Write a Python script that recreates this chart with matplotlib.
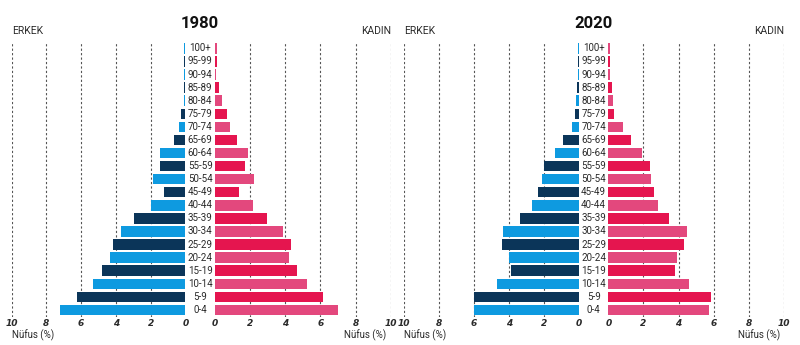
import matplotlib
matplotlib.use("Agg")
import matplotlib.pyplot as plt

ages = ["0-4", "5-9", "10-14", "15-19", "20-24", "25-29", "30-34", "35-39", "40-44",
        "45-49", "50-54", "55-59", "60-64", "65-69", "70-74", "75-79", "80-84",
        "85-89", "90-94", "95-99", "100+"]

male_1980 = [7.24, 6.26, 5.32, 4.78, 4.32, 4.17, 3.70, 2.94, 2.00, 1.21, 1.86, 1.44,
             1.44, 0.63, 0.35, 0.25, 0.10, 0.08, 0.07, 0.07, 0.07]
female_1980 = [7.00, 6.13, 5.22, 4.69, 4.23, 4.33, 3.85, 2.94, 2.14, 1.35, 2.20, 1.73,
               1.88, 1.27, 0.84, 0.68, 0.40, 0.23, 0.08, 0.10, 0.10]
male_2020 = [5.98, 6.00, 4.67, 3.87, 4.02, 4.40, 4.36, 3.37, 2.70, 2.34, 2.13, 1.98,
             1.35, 0.90, 0.42, 0.21, 0.15, 0.10, 0.07, 0.07, 0.07]
female_2020 = [5.71, 5.82, 4.57, 3.81, 3.89, 4.33, 4.46, 3.43, 2.85, 2.60, 2.43, 2.37,
               1.90, 1.29, 0.82, 0.34, 0.28, 0.23, 0.08, 0.08, 0.08]

ticks = [0, 2, 4, 6, 8, 10]
years = ["1980", "2020"]

LIGHT_BLUE = "#0e9ae0"
DARK_BLUE = "#0b3559"
PINK = "#e3487d"
CRIMSON = "#e5154f"
TXT = "#2a2a2a"

plt.rcParams["font.family"] = ["Roboto", "DejaVu Sans"]

W, H = 800, 345
fig = plt.figure(figsize=(W / 100, H / 100), dpi=100)

def px_axes(x0, x1, y0, y1):
    return fig.add_axes([x0 / W, 1 - y1 / H, (x1 - x0) / W, (y1 - y0) / H])

y_top, y_bot = 41.8, 316.5
panels = [
    dict(year=years[0], male=male_1980, female=female_1980,
         m=(11.7, 185.3), f=(215.0, 390.7)),
    dict(year=years[1], male=male_2020, female=female_2020,
         m=(404.0, 579.0), f=(608.3, 784.0)),
]

ypos = list(range(len(ages)))
for p in panels:
    axm = px_axes(p["m"][0], p["m"][1], y_top, y_bot)
    axf = px_axes(p["f"][0], p["f"][1], y_top, y_bot)
    mcol = [LIGHT_BLUE if i % 2 == 0 else DARK_BLUE for i in ypos]
    fcol = [PINK if i % 2 == 0 else CRIMSON for i in ypos]
    axm.barh(ypos, p["male"], height=0.8, color=mcol, linewidth=0, zorder=3)
    axf.barh(ypos, p["female"], height=0.8, color=fcol, linewidth=0, zorder=3)
    for ax, inv in ((axm, True), (axf, False)):
        ax.set_xlim((10, 0) if inv else (0, 10))
        ax.set_ylim(-0.5, len(ages) - 0.5)
        for t in ticks[1:]:
            ax.axvline(t, color="#555555", lw=0.8, ls=(0, (2, 2)), zorder=1)
        for s in ax.spines.values():
            s.set_visible(False)
        ax.set_yticks([])
        ax.set_xticks(ticks)
        ax.set_xticklabels([str(t) for t in ticks], fontstyle="italic", fontweight="bold",
                           fontsize=6.5, color=TXT, family=["DejaVu Sans"])
        ax.tick_params(axis="x", length=0, pad=2)
        ax.set_facecolor("none")
    cx = (p["m"][1] + p["f"][0]) / 2
    for i, a in enumerate(ages):
        yy = y_bot - (i + 0.5) * (y_bot - y_top) / len(ages)
        fig.text(cx / W, 1 - yy / H, a, ha="center", va="center", fontsize=7, color=TXT)
    fig.text(cx / W, 1 - 23 / H, p["year"], ha="center", va="center", fontsize=12,
             fontweight="bold", color="#111111")
    fig.text(p["m"][0] / W, 1 - 31 / H, "ERKEK", ha="left", va="center", fontsize=7.5, color=TXT)
    fig.text(p["f"][1] / W, 1 - 31 / H, "KADIN", ha="right", va="center", fontsize=7.5, color=TXT)
    fig.text(p["m"][0] / W, 1 - 335 / H, "Nüfus (%)", ha="left", va="center", fontsize=7, color=TXT)
    fig.text((p["f"][1] - 4) / W, 1 - 335 / H, "Nüfus (%)", ha="right", va="center", fontsize=7, color=TXT)

fig.savefig("out.png", dpi=100)
